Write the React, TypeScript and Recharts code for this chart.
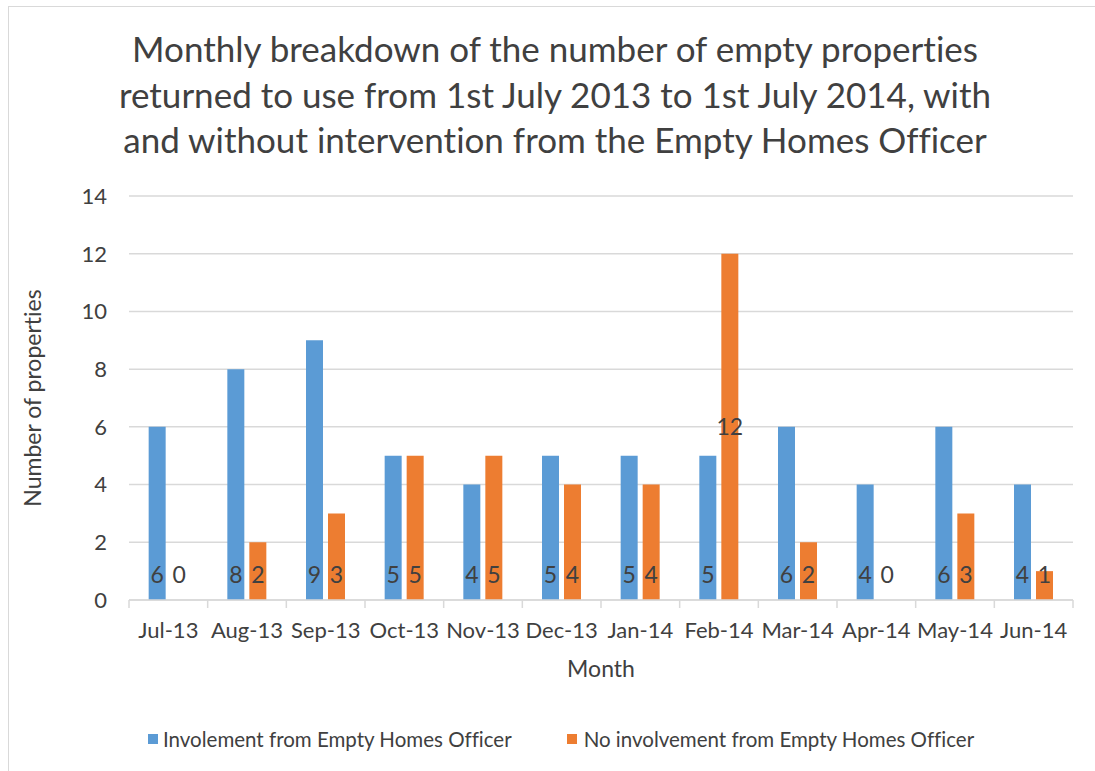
import React from 'react';
import { BarChart, Bar, XAxis, YAxis, CartesianGrid, LabelList, Label } from 'recharts';

const months = ['Jul-13', 'Aug-13', 'Sep-13', 'Oct-13', 'Nov-13', 'Dec-13', 'Jan-14', 'Feb-14', 'Mar-14', 'Apr-14', 'May-14', 'Jun-14'];
const involvement = [6, 8, 9, 5, 4, 5, 5, 5, 6, 4, 6, 4];
const noInvolvement = [0, 2, 3, 5, 5, 4, 4, 12, 2, 0, 3, 1];
const yTicks = [0, 2, 4, 6, 8, 10, 12, 14];
const seriesNames = ['Involement from Empty Homes Officer', 'No involvement from Empty Homes Officer'];
const titleLines = [
  'Monthly breakdown of the number of empty properties',
  'returned to use from 1st July 2013 to 1st July 2014, with',
  'and without intervention from the Empty Homes Officer',
];
const xAxisTitle = 'Month';
const yAxisTitle = 'Number of properties';
// data label that sits in the middle of its bar (series key, month)
const centeredLabel = { series: 'noInvolvement', month: 'Feb-14' };

const BLUE = '#5b9bd5';
const ORANGE = '#ed7d31';
const TEXT = '#404040';
const GRID = '#d9d9d9';
const FONT = 'Lato, Carlito, Calibri, sans-serif';

const data = months.map((m, i) => ({ month: m, involvement: involvement[i], noInvolvement: noInvolvement[i] }));

const XTick = (props: any) => {
  const { x, y, payload, index } = props;
  const off = payload.offset ?? 0;
  const last = index === months.length - 1;
  return (
    <g>
      <line x1={x - off} x2={x - off} y1={y} y2={y + 8} stroke={GRID} strokeWidth={1.5} />
      {last && <line x1={x + off} x2={x + off} y1={y} y2={y + 8} stroke={GRID} strokeWidth={1.5} />}
      <text x={x} y={y + 38} textAnchor="middle" fill={TEXT} fontSize={22} fontFamily={FONT}>
        {payload.value}
      </text>
    </g>
  );
};

const makeLabel = (series: string) => (props: any) => {
  const { x, y, width, height, value, index } = props;
  const centered = centeredLabel.series === series && centeredLabel.month === months[index];
  const cx = Number(x) + Number(width) / 2;
  const ty = centered ? Number(y) + Number(height) / 2 + 8 : Number(y) + Number(height) - 17;
  return (
    <text x={cx} y={ty} textAnchor="middle" fill={TEXT} fontSize={23} fontFamily={FONT}>
      {String(value)}
    </text>
  );
};

export default function App() {
  return (
    <div style={{ position: 'relative', width: 1095, height: 771, overflow: 'hidden', background: '#fff' }}>
      <style>{`body{margin:0;overflow:hidden;background:#fff} *{font-variant-ligatures:none;font-feature-settings:"liga" 0}`}</style>
      <div
        style={{
          position: 'absolute',
          left: 8,
          top: 6,
          width: 1100,
          height: 800,
          border: '1.5px solid #d9d9d9',
          boxSizing: 'border-box',
        }}
      />
      <div
        style={{
          position: 'absolute',
          left: 8,
          width: 1094,
          top: 26,
          textAlign: 'center',
          fontFamily: FONT,
          fontSize: 35,
          lineHeight: '45.5px',
          color: TEXT,
        }}
      >
        {titleLines.map((l) => (
          <div key={l}>{l}</div>
        ))}
      </div>
      <div style={{ position: 'absolute', left: 0, top: 0 }}>
        <BarChart
          width={1095}
          height={771}
          data={data}
          margin={{ top: 196, right: 22, bottom: 0, left: 0 }}
          barCategoryGap="25%"
          barGap={5}
        >
          <CartesianGrid vertical={false} stroke={GRID} strokeWidth={1.5} />
          <XAxis
            dataKey="month"
            height={171}
            interval={0}
            tickSize={0}
            tickMargin={0}
            tickLine={false}
            axisLine={{ stroke: GRID, strokeWidth: 1.5 }}
            tick={<XTick />}
          >
            <Label
              content={(p: any) => {
                const vb = p.viewBox;
                return (
                  <text x={vb.x + vb.width / 2} y={vb.y + 77} textAnchor="middle" fill={TEXT} fontSize={23} fontFamily={FONT}>
                    {xAxisTitle}
                  </text>
                );
              }}
            />
          </XAxis>
          <YAxis
            width={129}
            domain={[0, 14]}
            ticks={yTicks}
            interval={0}
            axisLine={false}
            tickLine={false}
            tickSize={0}
            tickMargin={22}
            tick={{ fill: TEXT, fontSize: 22, fontFamily: FONT }}
          >
            <Label
              content={(p: any) => {
                const vb = p.viewBox;
                const cx = vb.x + 41;
                const cy = vb.y + vb.height / 2;
                return (
                  <text
                    x={cx}
                    y={cy}
                    textAnchor="middle"
                    transform={`rotate(-90 ${cx} ${cy})`}
                    fill={TEXT}
                    fontSize={23}
                    fontFamily={FONT}
                  >
                    {yAxisTitle}
                  </text>
                );
              }}
            />
          </YAxis>
          <Bar dataKey="involvement" name={seriesNames[0]} fill={BLUE} minPointSize={0.01} isAnimationActive={false}>
            <LabelList dataKey="involvement" content={makeLabel('involvement')} />
          </Bar>
          <Bar dataKey="noInvolvement" name={seriesNames[1]} fill={ORANGE} minPointSize={0.01} isAnimationActive={false}>
            <LabelList dataKey="noInvolvement" content={makeLabel('noInvolvement')} />
          </Bar>
        </BarChart>
      </div>
      <div
        style={{
          position: 'absolute',
          top: 727,
          left: 148,
          display: 'flex',
          alignItems: 'center',
          fontFamily: FONT,
          fontSize: 20.5,
          color: TEXT,
        }}
      >
        <div style={{ display: 'flex', alignItems: 'center', marginRight: 55 }}>
          <span style={{ width: 10, height: 10, background: BLUE, display: 'inline-block', marginRight: 5 }} />
          <span>{seriesNames[0]}</span>
        </div>
        <div style={{ display: 'flex', alignItems: 'center' }}>
          <span style={{ width: 10, height: 10, background: ORANGE, display: 'inline-block', marginRight: 7 }} />
          <span>{seriesNames[1]}</span>
        </div>
      </div>
    </div>
  );
}
